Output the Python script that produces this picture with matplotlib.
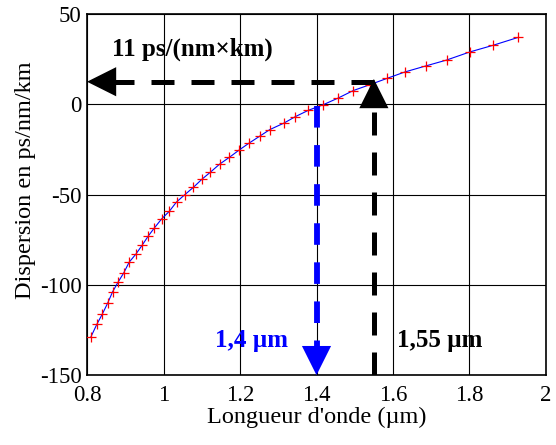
#!/usr/bin/env python3

'''courbe de dispersion chromatique d'une fibre (D en fonction de lambda)'''

import matplotlib
matplotlib.use('Agg')
import matplotlib.pyplot as plt

# points
wavelength = [0.810, 0.826, 0.840, 0.854, 0.867, 0.882, 0.896, 0.910, 0.928, 0.944,
              0.960, 0.976, 0.995, 1.015, 1.034, 1.056, 1.078, 1.101, 1.122, 1.147,
              1.172, 1.198, 1.223, 1.252, 1.278, 1.315, 1.345, 1.379, 1.418, 1.457,
              1.496, 1.540, 1.585, 1.631, 1.685, 1.740, 1.801, 1.862, 1.928]
dispersion = [-128.9, -121.7, -116.2, -110.1, -103.8, -98.2, -93.4, -87.5, -82.9, -78.1,
              -73.0, -68.5, -63.5, -59.3, -54.1, -50.0, -46.0, -41.4, -37.7, -33.1,
              -29.4, -25.3, -21.6, -17.6, -14.0, -10.4, -6.8, -3.3, -0.2, 3.5,
              7.6, 10.9, 14.4, 17.9, 21.2, 24.5, 29.0, 32.7, 37.1]

xticks = [0.8, 1, 1.2, 1.4, 1.6, 1.8, 2]
xticklabels = ['0.8', '1', '1.2', '1.4', '1.6', '1.8', '2']
yticks = [-150, -100, -50, 0, 50]

LAMBDA_ZERO = 1.4      # longueur d'onde de dispersion nulle
LAMBDA_TELECOM = 1.55
D_TELECOM = 12.5       # niveau de la fleche horizontale
D_TIP = 14.0           # pointe de la fleche verticale noire
XMIN, XMAX = 0.8, 2.0
YMIN, YMAX = -150, 50

plt.rcParams['font.family'] = ['Liberation Serif', 'DejaVu Serif']
plt.rcParams['axes.unicode_minus'] = False

fig = plt.figure(figsize=(5.56, 4.45), dpi=100)
ax = fig.add_axes([0.1565, 0.157, 0.8255, 0.8115])

ax.plot(wavelength, dispersion, color='blue', lw=0.8, zorder=3)
ax.plot(wavelength, dispersion, ls='none', marker='+', ms=7, mew=0.9,
        color='red', zorder=4)

ax.set_xlim(XMIN, XMAX)
ax.set_ylim(YMIN, YMAX)
ax.set_xticks(xticks)
ax.set_xticklabels(xticklabels)
ax.set_yticks(yticks)
ax.grid(True, color='black', lw=0.8, ls='-')
ax.tick_params(axis='x', length=0, pad=7, labelsize=16.5)
ax.tick_params(axis='y', length=0, pad=4, labelsize=16.5)
for sp in ax.spines.values():
    sp.set_linewidth(1.2)

ax.set_xlabel("Longueur d'onde (\u00b5m)", fontsize=17.5, labelpad=1)
ax.set_ylabel('Dispersion en ps/nm/km', fontsize=17.5, labelpad=1)
ax.yaxis.set_label_coords(-0.112, 0.54)

dash = (0, (4.6, 3.4))
head = dict(width=0, headwidth=21, headlength=21, lw=0)

# fleche horizontale noire
ax.plot([LAMBDA_TELECOM, XMIN + 0.07], [D_TELECOM, D_TELECOM], color='black',
        lw=3.6, ls=dash, dash_capstyle='butt', zorder=5, clip_on=False)
ax.annotate('', xy=(XMIN, D_TELECOM), xytext=(21, 0), textcoords='offset points',
            arrowprops=dict(head, color='black'), zorder=6, annotation_clip=False)

# fleche verticale noire
ax.plot([LAMBDA_TELECOM, LAMBDA_TELECOM], [YMIN, D_TIP - 15], color='black',
        lw=3.6, ls=dash, dash_capstyle='butt', zorder=5)
ax.annotate('', xy=(LAMBDA_TELECOM, D_TIP), xytext=(0, -21), textcoords='offset points',
            arrowprops=dict(head, color='black'), zorder=6)

# fleche verticale bleue
ax.plot([LAMBDA_ZERO, LAMBDA_ZERO], [-1, YMIN + 16], color='blue',
        lw=4.2, ls=(0, (3.7, 3.0)), dash_capstyle='butt', zorder=5)
ax.annotate('', xy=(LAMBDA_ZERO, YMIN), xytext=(0, 22), textcoords='offset points',
            arrowprops=dict(head, color='blue'), zorder=6)

ax.text(0.865, 30.5, '11 ps/(nm\u00d7km)', fontsize=18, fontweight='bold',
        ha='left', va='center', zorder=7)
ax.text(1.135, -131, '1,4 \u00b5m', fontsize=18, fontweight='bold', color='blue',
        ha='left', va='center', zorder=7)
ax.text(1.61, -131, '1,55 \u00b5m', fontsize=18, fontweight='bold', color='black',
        ha='left', va='center', zorder=7)

fig.savefig('out.png', dpi=100)
